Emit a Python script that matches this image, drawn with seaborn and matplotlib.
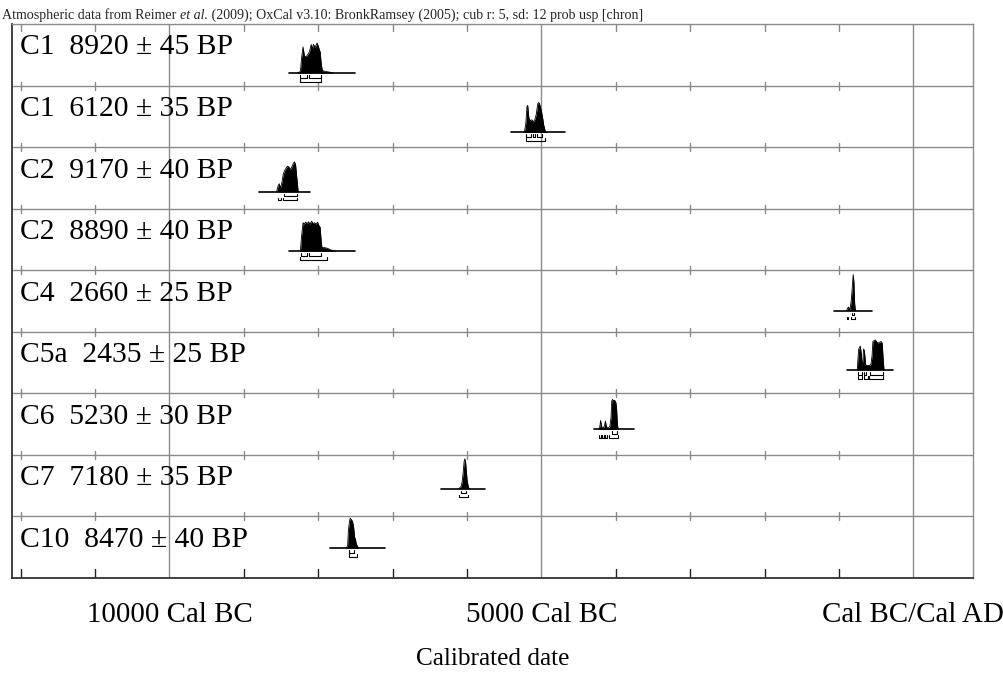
import numpy as np
import pandas as pd
import matplotlib
matplotlib.use("Agg")
import matplotlib.pyplot as plt
import seaborn as sns

# ---------------- data (years: negative = BC) ----------------
labels = ["C1  8920 ± 45 BP", "C1  6120 ± 35 BP", "C2  9170 ± 40 BP",
          "C2  8890 ± 40 BP", "C4  2660 ± 25 BP", "C5a  2435 ± 25 BP",
          "C6  5230 ± 30 BP", "C7  7180 ± 35 BP", "C10  8470 ± 40 BP"]

yrs_1 = [-8280, -8240, -8225, -8205, -8185, -8160, -8140, -8120, -8095, -8080,
         -8065, -8045, -8015, -7995, -7975, -7960, -7945, -7900, -7850, -7800]
dens_1 = [0, 0.05, 0.5, 0.87, 0.55, 0.55, 0.62, 0.7, 0.95, 0.8,
          0.96, 0.85, 1.0, 0.85, 0.7, 0.3, 0.08, 0.05, 0.03, 0]
base_1 = [-8400, -7500]
r68_1 = [(-8240, -8150), (-8130, -7970)]
r95_1 = [(-8240, -7960)]

yrs_2 = [-5230, -5210, -5195, -5185, -5170, -5150, -5130, -5110, -5090, -5070,
         -5050, -5035, -5020, -5000, -4985, -4970, -4950, -4920]
dens_2 = [0, 0.3, 0.85, 0.9, 0.5, 0.38, 0.42, 0.35, 0.42, 0.6,
          0.95, 1.0, 0.9, 0.7, 0.5, 0.25, 0.05, 0]
base_2 = [-5406, -4687]
r68_2 = [(-5210, -5140), (-5110, -5080), (-5060, -4990)]
r95_2 = [(-5210, -4950)]

yrs_3 = [-8560, -8540, -8525, -8510, -8490, -8470, -8450, -8430, -8415, -8395,
         -8380, -8360, -8340, -8320, -8305, -8290, -8270]
dens_3 = [0, 0.2, 0.27, 0.12, 0.3, 0.6, 0.72, 0.8, 0.85, 0.83,
          0.75, 0.8, 0.92, 1.0, 0.9, 0.5, 0]
base_3 = [-8800, -8114]
r68_3 = [(-8460, -8290)]
r95_3 = [(-8545, -8500), (-8470, -8280)]

yrs_4 = [-8240, -8225, -8205, -8190, -8170, -8150, -8130, -8110, -8090, -8070,
         -8050, -8030, -8010, -7990, -7975, -7960, -7950, -7920, -7880, -7840,
         -7800, -7770]
dens_4 = [0, 0.5, 0.95, 0.9, 0.97, 0.92, 0.98, 0.9, 1.0, 0.92,
          0.95, 0.9, 0.97, 0.85, 0.8, 0.3, 0.12, 0.12, 0.1, 0.05,
          0.02, 0]
base_4 = [-8397, -7500]
r68_4 = [(-8230, -8150), (-8120, -7970)]
r95_4 = [(-8240, -7880)]

yrs_5 = [-900, -880, -870, -860, -850, -835, -820, -810, -800, -790, -780]
dens_5 = [0, 0.08, 0.1, 0.04, 0.05, 0.3, 0.7, 1.0, 0.8, 0.2, 0]
base_5 = [-1071, -555]
r68_5 = [(-830, -795)]
r95_5 = [(-895, -875), (-840, -790)]

yrs_6 = [-755, -745, -735, -715, -700, -690, -680, -670, -660, -650,
         -640, -630, -610, -590, -570, -555, -545, -530, -510, -490,
         -470, -450, -435, -420, -405, -395]
dens_6 = [0, 0.4, 0.7, 0.8, 0.55, 0.1, 0.3, 0.7, 0.65, 0.4,
          0.15, 0.15, 0.15, 0.15, 0.2, 0.5, 0.95, 0.98, 1.0, 0.92,
          0.9, 0.93, 0.95, 0.9, 0.3, 0]
base_6 = [-891, -273]
r68_6 = [(-750, -690), (-665, -640), (-590, -410)]
r95_6 = [(-750, -685), (-670, -610), (-595, -405)]

yrs_7 = [-4230, -4215, -4205, -4195, -4185, -4165, -4150, -4140, -4130, -4115,
         -4100, -4080, -4065, -4055, -4045, -4030, -4015, -4000, -3990, -3980,
         -3970]
dens_7 = [0, 0.1, 0.3, 0.15, 0.05, 0.05, 0.15, 0.28, 0.12, 0.05,
          0.05, 0.1, 0.4, 0.95, 1.0, 0.95, 0.97, 0.9, 0.7, 0.2,
          0]
base_7 = [-4297, -3759]
r68_7 = [(-4050, -3985)]
r95_7 = [(-4220, -4200), (-4180, -4160), (-4150, -4125), (-4090, -3970)]

yrs_8 = [-6120, -6100, -6080, -6065, -6050, -6040, -6030, -6020, -6010, -6000,
         -5990, -5980, -5970]
dens_8 = [0, 0.03, 0.08, 0.25, 0.6, 0.9, 1.0, 0.9, 0.6, 0.3, 0.15, 0.05, 0]
base_8 = [-6344, -5753]
r68_8 = [(-6080, -6010)]
r95_8 = [(-6105, -5985)]

yrs_9 = [-7620, -7605, -7595, -7580, -7570, -7555, -7540, -7525, -7510, -7500,
         -7490, -7480, -7470, -7460]
dens_9 = [0, 0.1, 0.6, 0.9, 1.0, 0.95, 0.9, 0.7, 0.35, 0.3, 0.15, 0.1, 0.05, 0]
base_9 = [-7836, -7097]
r68_9 = [(-7585, -7515)]
r95_9 = [(-7590, -7480)]

grid_years = [-10000, -5000, 0]
grid_labels = ["10000 Cal BC", "5000 Cal BC", "Cal BC/Cal AD"]
minor_years = [-12000, -11000, -9000, -8000, -7000, -6000, -4000, -3000, -2000, -1000]

title_parts = ["Atmospheric data from Reimer ", "et al.",
               " (2009); OxCal v3.10: BronkRamsey (2005); cub r: 5, sd: 12 prob usp [chron]"]
xlabel = "Calibrated date"

samples = [
    (yrs_1, dens_1, base_1, r68_1, r95_1),
    (yrs_2, dens_2, base_2, r68_2, r95_2),
    (yrs_3, dens_3, base_3, r68_3, r95_3),
    (yrs_4, dens_4, base_4, r68_4, r95_4),
    (yrs_5, dens_5, base_5, r68_5, r95_5),
    (yrs_6, dens_6, base_6, r68_6, r95_6),
    (yrs_7, dens_7, base_7, r68_7, r95_7),
    (yrs_8, dens_8, base_8, r68_8, r95_8),
    (yrs_9, dens_9, base_9, r68_9, r95_9),
]
peak_scale = [1, 1, 1, 1, 1.2, 1, 1, 1, 1]

# ---------------- layout ----------------
sns.set_theme(style="white")
plt.rcParams['font.family'] = ['Liberation Serif', 'DejaVu Serif']

W, H = 1004, 673
fig = plt.figure(figsize=(W / 100, H / 100), dpi=100)
L, R, T, B = 12, 973, 24, 578
ax = fig.add_axes([L / W, 1 - B / H, (R - L) / W, (B - T) / H])

nrows = len(labels)
X0, X1 = -12117, 801
ax.set_xlim(X0, X1)
ax.set_ylim(nrows, 0)

row_px = (B - T) / nrows
def px(v):
    return v / row_px

grey = "#8a8a8a"
for i in range(1, nrows):
    ax.axhline(i, color=grey, lw=1.0, zorder=1)
for g in grid_years:
    ax.axvline(g, color=grey, lw=1.0, zorder=1)
for yv in minor_years:
    for i in range(1, nrows):
        ax.plot([yv, yv], [i - px(4), i + px(4)], color=grey, lw=1.0, zorder=1)
    ax.plot([yv, yv], [0, px(7)], color=grey, lw=1.0, zorder=1)
    ax.plot([yv, yv], [nrows, nrows - px(9)], color="#222222", lw=1.0, zorder=1)

peakH = px(30)
label_x = X0 + 8 * (X1 - X0) / (R - L)
for i, (yrs, dens, base, r68, r95) in enumerate(samples):
    by = px(73 - T + 59.4 * i)
    d = np.array(dens) * peak_scale[i]
    df = pd.DataFrame({"year": yrs, "y": by - d * peakH})
    ax.fill_between(df["year"], by, df["y"], color="black", lw=0, zorder=3)
    sns.lineplot(data=df, x="year", y="y", color="black", lw=0.6, ax=ax,
                 estimator=None, sort=False, zorder=3)
    bl = pd.DataFrame({"year": base, "y": [by, by]})
    sns.lineplot(data=bl, x="year", y="y", color="black", lw=1.2, ax=ax,
                 estimator=None, zorder=3)
    for (rngs, off) in ((r68, 4.5), (r95, 8.5)):
        yy = by + px(off)
        for a, b in rngs:
            ax.plot([a, a, b, b], [yy - px(2.5), yy, yy, yy - px(2.5)],
                    color="black", lw=0.8, zorder=3)
    ax.text(label_x, i + px(23.5), labels[i], fontsize=21.3,
            va="center", ha="left", color="black")

ax.set_xticks(grid_years, grid_labels)
ax.tick_params(axis="x", length=0, pad=17, labelsize=20.9, colors="black")
ax.set_yticks([])
ax.set_xlabel(xlabel, fontsize=18.2, color="black", labelpad=15)
ax.set_ylabel("")

for s in ("top", "right"):
    ax.spines[s].set_color(grey)
    ax.spines[s].set_linewidth(1.0)
for s in ("left", "bottom"):
    ax.spines[s].set_color("#333333")
    ax.spines[s].set_linewidth(1.3)

# title
fs = 10.05
t1 = fig.text(2 / W, 1 - 15 / H, title_parts[0], fontsize=fs, va="center", ha="left")
t2 = ax.annotate(title_parts[1], xy=(1, 0), xycoords=t1, va="bottom", ha="left",
                 fontsize=fs, fontstyle="italic", annotation_clip=False)
t3 = ax.annotate(title_parts[2], xy=(1, 0), xycoords=t2, va="bottom", ha="left",
                 fontsize=fs, annotation_clip=False)

fig.savefig("out.png", dpi=100, facecolor="white")
